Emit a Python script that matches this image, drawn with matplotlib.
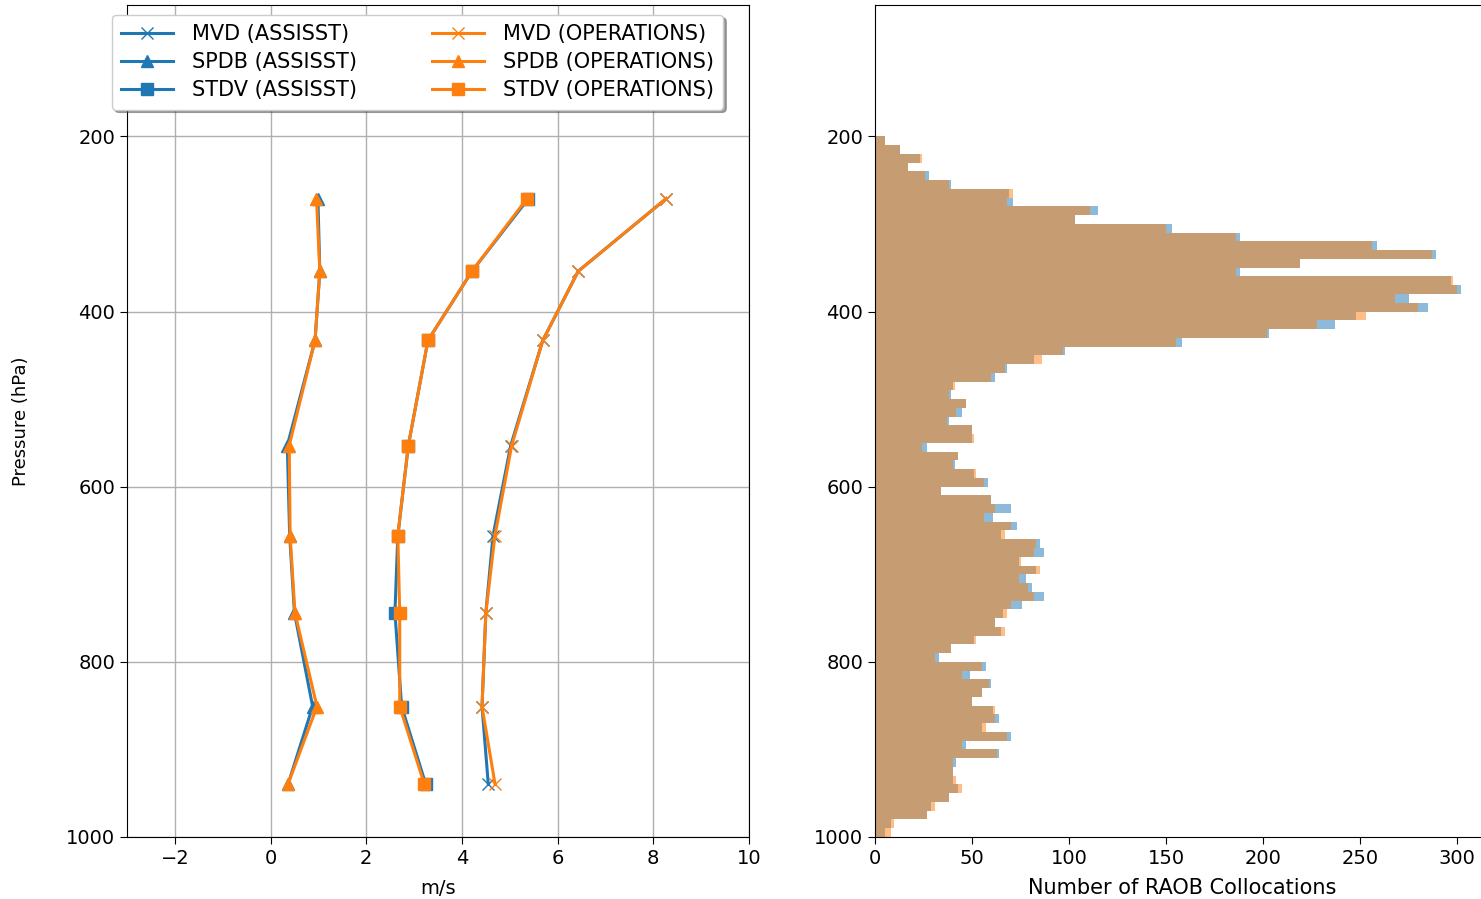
import matplotlib
matplotlib.use("Agg")
import matplotlib.pyplot as plt
import numpy as np

# ---- profile data (pressure levels in hPa, values in m/s) ----
levels = [271, 354, 433, 553, 656, 744, 851, 939]

mvd_assisst = [8.27, 6.43, 5.69, 5.02, 4.65, 4.50, 4.42, 4.55]
spdb_assisst = [0.99, 1.03, 0.93, 0.35, 0.40, 0.50, 0.88, 0.37]
stdv_assisst = [5.39, 4.21, 3.29, 2.88, 2.66, 2.60, 2.74, 3.24]

mvd_ops = [8.27, 6.43, 5.69, 5.04, 4.69, 4.50, 4.42, 4.69]
spdb_ops = [0.96, 1.03, 0.93, 0.39, 0.41, 0.51, 0.97, 0.37]
stdv_ops = [5.36, 4.21, 3.29, 2.88, 2.66, 2.70, 2.70, 3.21]

# ---- histogram of collocations, 10 hPa bins from 200 to 1000 hPa ----
bin_edges = list(range(200, 1001, 10))
counts_assisst = [5, 13, 23, 17, 28, 39, 69, 71, 115, 103,
                  153, 188, 259, 289, 219, 188, 297, 302, 275, 285,
                  248, 237, 203, 158, 98, 82, 68, 62, 40, 39,
                  47, 45, 38, 50, 50, 27, 43, 41, 51, 58,
                  34, 60, 70, 61, 73, 65, 85, 87, 74, 83,
                  78, 81, 87, 76, 66, 62, 65, 51, 39, 33,
                  57, 49, 60, 55, 50, 61, 64, 55, 70, 47,
                  64, 42, 40, 40, 43, 38, 29, 27, 8, 5]
counts_ops = [5, 13, 24, 17, 26, 38, 71, 68, 111, 103,
              150, 186, 256, 287, 219, 186, 298, 300, 268, 280,
              253, 228, 202, 155, 97, 86, 67, 60, 41, 38,
              47, 42, 37, 50, 51, 24, 43, 40, 52, 56,
              34, 60, 62, 56, 70, 67, 83, 82, 75, 85,
              74, 79, 82, 70, 68, 62, 67, 52, 39, 31,
              55, 45, 59, 55, 50, 62, 62, 57, 68, 45,
              63, 40, 40, 42, 45, 38, 31, 27, 10, 8]

y_ticks = [200, 400, 600, 800, 1000]
x_ticks_left = [-2, 0, 2, 4, 6, 8, 10]

blue = "#1f77b4"
orange = "#ff7f0e"

W, H = 1481, 899
fig = plt.figure(figsize=(W / 100, H / 100), dpi=100)

def fx(px):
    return px / W

def fy(py):
    return 1 - py / H

ax1 = fig.add_axes([fx(127), fy(837), fx(749) - fx(127), fy(5) - fy(837)])
ax2 = fig.add_axes([fx(875), fy(837), fx(1490) - fx(875), fy(5) - fy(837)])

lw = 2.2
ms = 8.5
ax1.plot(mvd_assisst, levels, color=blue, marker="x", lw=lw, ms=ms, label="MVD (ASSISST)")
ax1.plot(spdb_assisst, levels, color=blue, marker="^", lw=lw, ms=ms, label="SPDB (ASSISST)")
ax1.plot(stdv_assisst, levels, color=blue, marker="s", lw=lw, ms=ms, label="STDV (ASSISST)")
ax1.plot(mvd_ops, levels, color=orange, marker="x", lw=lw, ms=ms, label="MVD (OPERATIONS)")
ax1.plot(spdb_ops, levels, color=orange, marker="^", lw=lw, ms=ms, label="SPDB (OPERATIONS)")
ax1.plot(stdv_ops, levels, color=orange, marker="s", lw=lw, ms=ms, label="STDV (OPERATIONS)")

ax1.set_xlim(-3, 10)
ax1.set_ylim(1000, 50)
ax1.set_xticks(x_ticks_left)
ax1.set_xticklabels(["\u22122", "0", "2", "4", "6", "8", "10"])
ax1.set_yticks(y_ticks)
ax1.grid(True, color="#b0b0b0", lw=1.0)
ax1.set_axisbelow(True)
ax1.set_xlabel("m/s", fontsize=14, labelpad=8)
ax1.set_ylabel("Pressure (hPa)", fontsize=13, labelpad=26)
ax1.tick_params(labelsize=14, length=5)

leg = ax1.legend(ncol=2, loc="upper left", bbox_to_anchor=(fx(112), fy(15)),
                 bbox_transform=fig.transFigure, borderaxespad=0, fontsize=15,
                 handlelength=2.5, handletextpad=0.9, columnspacing=3.6,
                 labelspacing=0.38, borderpad=0.45, shadow=True, fancybox=True,
                 framealpha=1)

ax2.hist(bin_edges[:-1], bins=bin_edges, weights=counts_assisst,
         orientation="horizontal", color=blue, alpha=0.5)
ax2.hist(bin_edges[:-1], bins=bin_edges, weights=counts_ops,
         orientation="horizontal", color=orange, alpha=0.5)
ax2.set_ylim(1000, 50)
ax2.set_xlim(0, 317)
ax2.set_yticks(y_ticks)
ax2.set_xticks([0, 50, 100, 150, 200, 250, 300])
ax2.set_xlabel("Number of RAOB Collocations", fontsize=15, labelpad=7)
ax2.tick_params(labelsize=14, length=5)

fig.savefig("out.png", dpi=100)
